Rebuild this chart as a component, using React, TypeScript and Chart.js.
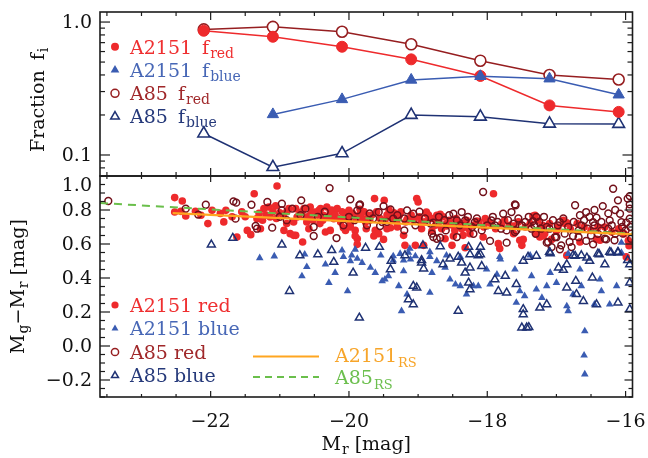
import { useEffect, useRef } from 'react';
import { Chart, registerables } from 'chart.js';

Chart.register(...registerables);

const FONT = '"DejaVu Serif", "Liberation Serif", serif';

// ---------- geometry ----------
const CW = 648, CH = 458;
const AX_L = 100, AX_R = 632.5, AX_T = 12, AX_M = 176, AX_B = 397;

const X_MIN = -23.6, X_MAX = -15.9;
const FRAC_MIN = 0.0695, FRAC_MAX = 1.19;
const COL_MIN = -0.3, COL_MAX = 1.0;

// ---------- ticks ----------
const xMajorTicks = [-22, -20, -18, -16];
const xTickLabels = ['−22', '−20', '−18', '−16'];
const fracMajorTicks = [1.0, 0.1];
const fracTickLabels = ['1.0', '0.1'];
const fracMinorTicks = [0.08, 0.09, 0.2, 0.3, 0.4, 0.5, 0.6, 0.7, 0.8, 0.9];
const colMajorTicks = [-0.2, 0.0, 0.2, 0.4, 0.6, 0.8, 1.0];
const colTickLabels = ['−0.2', '0.0', '0.2', '0.4', '0.6', '0.8', '1.0'];

// ---------- top panel: fractions ----------
const magBins = [-22.1, -21.1, -20.1, -19.1, -18.1, -17.1, -16.1];
const fRedA2151 = [0.86, 0.775, 0.652, 0.524, 0.393, 0.236, 0.211];
const fBlueA2151 = [null, 0.202, 0.262, 0.367, 0.391, 0.375, 0.284];
const fRedA85 = [0.88, 0.92, 0.846, 0.68, 0.512, 0.40, 0.37];
const fBlueA85 = [0.145, 0.081, 0.103, 0.2, 0.194, 0.172, 0.171];

// ---------- bottom panel: colour-magnitude ----------
const rsA2151Mag = [-22.55, -15.9];
const rsA2151Col = [0.782, 0.657];
const rsA85Mag = [-23.6, -15.9];
const rsA85Col = [0.841, 0.661];

const a2151Red: [number, number][] = [
  [-22.52, 0.873], [-22.41, 0.853], [-22.52, 0.788], [-22.43, 0.792], [-22.36, 0.765], [-22.22, 0.792],
  [-22.14, 0.769], [-22.04, 0.72], [-21.98, 0.798], [-21.86, 0.78], [-21.81, 0.73], [-21.78, 0.798],
  [-21.69, 0.76], [-21.62, 0.641], [-21.47, 0.68], [-21.42, 0.655], [-21.37, 0.896], [-21.33, 0.749],
  [-21.28, 0.69], [-21.23, 0.808], [-21.16, 0.818], [-21.14, 0.759], [-21.06, 0.824], [-21.04, 0.941],
  [-21.0, 0.784], [-20.94, 0.68], [-20.87, 0.808], [-20.85, 0.661], [-20.8, 0.73], [-20.77, 0.651],
  [-20.75, 0.759], [-20.77, 0.808], [-20.65, 0.808], [-20.56, 0.818], [-20.49, 0.788], [-20.41, 0.808],
  [-20.37, 0.769], [-20.32, 0.818], [-20.27, 0.788], [-20.22, 0.749], [-20.17, 0.808], [-20.12, 0.729],
  [-20.08, 0.749], [-20.05, 0.68], [-20.0, 0.798], [-19.98, 0.72], [-19.91, 0.68], [-19.88, 0.631],
  [-19.81, 0.749], [-19.76, 0.729], [-19.72, 0.769], [-19.63, 0.867], [-19.62, 0.68], [-19.57, 0.661],
  [-19.49, 0.857], [-19.48, 0.739], [-19.4, 0.759], [-19.31, 0.729], [-19.21, 0.651], [-19.19, 0.592],
  [-19.12, 0.749], [-19.04, 0.592], [-19.02, 0.867], [-19.0, 0.847], [-18.95, 0.729], [-18.92, 0.592],
  [-18.88, 0.788], [-18.83, 0.749], [-18.73, 0.769], [-18.66, 0.69], [-18.61, 0.631], [-18.59, 0.72],
  [-18.51, 0.592], [-18.47, 0.68], [-18.37, 0.69], [-20.67, 0.612], [-20.8, 0.651], [-20.34, 0.671],
  [-20.27, 0.68], [-20.61, 0.729], [-17.91, 0.896], [-18.42, 0.729], [-18.35, 0.651], [-18.27, 0.69],
  [-18.25, 0.661], [-18.06, 0.641], [-18.01, 0.729], [-17.84, 0.602], [-17.82, 0.573], [-17.79, 0.72],
  [-17.62, 0.661], [-17.53, 0.622], [-17.5, 0.592], [-17.31, 0.769], [-17.29, 0.661], [-17.24, 0.641],
  [-17.17, 0.661], [-16.88, 0.72], [-16.85, 0.533], [-16.66, 0.612], [-16.4, 0.7], [-16.37, 0.622],
  [-15.99, 0.524], [-18.03, 0.749], [-20.08, 0.696], [-19.91, 0.647], [-19.88, 0.598], [-19.64, 0.647],
  [-19.5, 0.627], [-19.4, 0.696], [-18.87, 0.775], [-18.8, 0.676], [-18.68, 0.775], [-18.49, 0.647],
  [-18.32, 0.578], [-18.15, 0.735], [-17.99, 0.735], [-17.48, 0.627], [-17.34, 0.765], [-17.19, 0.647],
  [-17.07, 0.627], [-16.85, 0.725], [-16.42, 0.627], [-19.35, 0.784], [-19.84, 0.804], [-20.03, 0.784],
  [-19.16, 0.745], [-18.59, 0.706], [-18.35, 0.716], [-17.62, 0.706], [-17.24, 0.686], [-17.0, 0.676],
  [-21.3, 0.78], [-21.2, 0.77], [-21.1, 0.79], [-21.05, 0.75], [-20.95, 0.77], [-20.9, 0.79],
  [-20.72, 0.77], [-20.68, 0.79], [-20.6, 0.76], [-20.55, 0.78], [-20.52, 0.74], [-20.45, 0.77],
  [-20.43, 0.8], [-20.38, 0.74], [-20.3, 0.76], [-20.25, 0.8], [-20.2, 0.77], [-20.15, 0.75],
  [-20.1, 0.79], [-20.02, 0.76], [-19.95, 0.78], [-19.9, 0.75], [-19.85, 0.77], [-19.78, 0.79],
  [-19.7, 0.74], [-19.67, 0.77], [-19.6, 0.79], [-19.55, 0.75], [-19.45, 0.77], [-19.42, 0.8],
  [-19.35, 0.74], [-19.27, 0.77], [-19.25, 0.79], [-19.18, 0.73], [-19.1, 0.77], [-19.06, 0.74],
  [-18.98, 0.76], [-18.9, 0.73], [-18.85, 0.77], [-18.78, 0.75], [-18.7, 0.73], [-18.64, 0.76],
  [-18.55, 0.74], [-18.5, 0.71], [-18.45, 0.75], [-18.38, 0.72], [-18.3, 0.74], [-18.2, 0.71],
  [-18.12, 0.73], [-18.05, 0.7], [-17.95, 0.72], [-17.88, 0.69], [-17.75, 0.74], [-17.68, 0.71],
  [-17.55, 0.73], [-17.45, 0.7], [-17.38, 0.72], [-17.27, 0.74], [-17.2, 0.71], [-17.1, 0.72],
  [-16.98, 0.7], [-16.9, 0.74], [-16.8, 0.69], [-16.7, 0.72], [-16.6, 0.7], [-16.5, 0.68],
  [-16.3, 0.7], [-16.2, 0.67], [-16.1, 0.69], [-16.02, 0.66], [-15.96, 0.62], [-15.95, 0.59],
  [-21.55, 0.79], [-21.5, 0.76], [-21.25, 0.74], [-20.9, 0.72], [-20.58, 0.69], [-20.42, 0.72],
  [-19.98, 0.7], [-19.75, 0.69], [-19.45, 0.69], [-19.3, 0.7], [-18.95, 0.69], [-18.75, 0.71],
];

const a2151Blue: [number, number][] = [
  [-21.29, 0.518], [-21.08, 0.528], [-20.1, 0.563], [-20.08, 0.524], [-19.96, 0.533], [-19.88, 0.514],
  [-19.54, 0.533], [-19.26, 0.543], [-19.12, 0.573], [-18.83, 0.553], [-18.83, 0.524], [-18.59, 0.533],
  [-18.39, 0.524], [-19.21, 0.504], [-19.36, 0.504], [-17.82, 0.524], [-17.38, 0.533], [-16.83, 0.543],
  [-16.06, 0.549], [-20.68, 0.411], [-20.61, 0.466], [-20.64, 0.539], [-20.34, 0.48], [-20.29, 0.372],
  [-20.2, 0.431], [-20.02, 0.323], [-19.98, 0.5], [-19.91, 0.568], [-19.81, 0.49], [-19.69, 0.461],
  [-19.62, 0.431], [-19.52, 0.382], [-19.48, 0.392], [-19.43, 0.412], [-19.36, 0.529], [-19.28, 0.353],
  [-19.24, 0.206], [-19.21, 0.441], [-19.16, 0.304], [-19.14, 0.549], [-19.11, 0.51], [-19.04, 0.529],
  [-18.8, 0.431], [-18.73, 0.5], [-18.61, 0.461], [-18.54, 0.392], [-18.46, 0.363], [-18.39, 0.353],
  [-18.3, 0.304], [-18.2, 0.353], [-18.13, 0.353], [-18.01, 0.451], [-17.96, 0.363], [-17.86, 0.421],
  [-17.81, 0.51], [-17.6, 0.451], [-17.58, 0.255], [-17.53, 0.323], [-17.46, 0.294], [-17.36, 0.412],
  [-17.29, 0.333], [-17.21, 0.284], [-17.14, 0.353], [-17.09, 0.431], [-17.0, 0.372], [-16.85, 0.235],
  [-16.83, 0.206], [-16.76, 0.304], [-16.66, 0.451], [-16.64, 0.353], [-16.59, 0.088], [-16.6, -0.055],
  [-16.59, -0.166], [-16.45, 0.245], [-16.37, 0.392], [-16.35, 0.323], [-16.23, 0.245], [-16.13, 0.353],
  [-16.06, 0.608], [-18.83, 0.314],
];

const a85Red: [number, number][] = [
  [-23.48, 0.853], [-22.36, 0.808], [-22.18, 0.773], [-22.07, 0.831], [-21.67, 0.851], [-21.63, 0.843],
  [-21.64, 0.749], [-21.41, 0.831], [-21.35, 0.706], [-21.33, 0.69], [-21.11, 0.696], [-21.18, 0.847],
  [-20.97, 0.837], [-20.97, 0.798], [-20.82, 0.808], [-20.28, 0.929], [-20.69, 0.857], [-20.63, 0.808],
  [-20.51, 0.7], [-20.51, 0.647], [-20.18, 0.635], [-19.98, 0.863], [-19.85, 0.828], [-19.88, 0.798],
  [-19.57, 0.788], [-19.52, 0.729], [-19.36, 0.749], [-19.16, 0.798], [-19.07, 0.778], [-19.04, 0.71],
  [-18.8, 0.661], [-18.78, 0.641], [-18.73, 0.631], [-18.49, 0.778], [-18.44, 0.739], [-18.44, 0.641],
  [-20.7, 0.769], [-19.74, 0.71], [-20.08, 0.71], [-18.06, 0.906], [-18.37, 0.788], [-18.32, 0.739],
  [-18.18, 0.729], [-18.08, 0.68], [-17.94, 0.739], [-17.89, 0.71], [-17.77, 0.778], [-17.65, 0.788],
  [-17.59, 0.828], [-17.58, 0.68], [-17.5, 0.71], [-17.36, 0.69], [-17.29, 0.759], [-17.22, 0.69],
  [-17.12, 0.612], [-17.07, 0.582], [-17.02, 0.641], [-16.95, 0.729], [-16.93, 0.592], [-16.81, 0.612],
  [-16.78, 0.582], [-16.73, 0.828], [-16.66, 0.769], [-16.64, 0.71], [-16.57, 0.788], [-16.52, 0.759],
  [-16.47, 0.729], [-16.35, 0.68], [-16.3, 0.631], [-16.23, 0.739], [-16.18, 0.925], [-16.16, 0.622],
  [-16.11, 0.857], [-16.08, 0.778], [-16.06, 0.729], [-16.04, 0.661], [-15.97, 0.867], [-15.94, 0.808],
  [-15.94, 0.749], [-15.92, 0.631], [-17.72, 0.68], [-16.88, 0.661], [-17.14, 0.7], [-19.84, 0.833],
  [-19.5, 0.823], [-19.4, 0.804], [-17.6, 0.833], [-17.34, 0.735], [-17.14, 0.608], [-16.42, 0.755],
  [-16.33, 0.823], [-15.99, 0.725], [-15.94, 0.882], [-15.94, 0.833], [-16.76, 0.647], [-16.57, 0.618],
  [-16.47, 0.598], [-16.28, 0.627], [-16.95, 0.569], [-17.72, 0.608], [-17.96, 0.618], [-18.78, 0.725],
  [-19.55, 0.706], [-18.68, 0.637],
  [-21.0, 0.76], [-20.9, 0.74], [-20.45, 0.76], [-20.35, 0.79], [-20.0, 0.76], [-19.92, 0.74],
  [-19.7, 0.78], [-19.65, 0.75], [-19.45, 0.73], [-19.3, 0.77], [-19.2, 0.75], [-18.98, 0.79],
  [-18.9, 0.75], [-18.82, 0.72], [-18.7, 0.76], [-18.62, 0.74], [-18.55, 0.77], [-18.4, 0.71],
  [-18.28, 0.76], [-18.22, 0.7], [-18.15, 0.75], [-18.0, 0.71], [-17.92, 0.76], [-17.85, 0.73],
  [-17.8, 0.69], [-17.7, 0.74], [-17.62, 0.72], [-17.55, 0.75], [-17.45, 0.73], [-17.4, 0.76],
  [-17.32, 0.71], [-17.25, 0.73], [-17.18, 0.76], [-17.1, 0.69], [-17.05, 0.74], [-16.98, 0.71],
  [-16.9, 0.75], [-16.83, 0.7], [-16.75, 0.73], [-16.68, 0.68], [-16.6, 0.74], [-16.55, 0.69],
  [-16.45, 0.71], [-16.4, 0.66], [-16.35, 0.73], [-16.25, 0.69], [-16.2, 0.71], [-16.15, 0.66],
  [-16.05, 0.7], [-16.0, 0.68], [-15.93, 0.7], [-16.68, 0.64], [-16.5, 0.65], [-17.0, 0.64],
  [-17.3, 0.66], [-17.6, 0.67], [-18.2, 0.66], [-18.6, 0.68], [-19.2, 0.68], [-16.15, 0.8],
  [-16.25, 0.78], [-16.45, 0.8],
];

const a85Blue: [number, number][] = [
  [-21.99, 0.596], [-21.68, 0.635], [-20.97, 0.596], [-20.71, 0.533], [-20.45, 0.539], [-20.25, 0.563],
  [-19.76, 0.577], [-19.56, 0.582], [-19.19, 0.533], [-18.95, 0.504], [-18.68, 0.586], [-18.54, 0.514],
  [-20.22, 0.494], [-18.27, 0.582], [-18.1, 0.582], [-18.13, 0.533], [-17.41, 0.524], [-17.1, 0.553],
  [-16.76, 0.533], [-16.64, 0.533], [-16.4, 0.543], [-16.23, 0.553], [-16.11, 0.553], [-18.42, 0.524],
  [-15.97, 0.504], [-20.86, 0.323], [-19.94, 0.431], [-19.85, 0.166], [-19.39, 0.5], [-19.4, 0.451],
  [-19.14, 0.274], [-18.93, 0.592], [-18.95, 0.49], [-18.64, 0.48], [-18.92, 0.455], [-19.07, 0.353],
  [-19.02, 0.343], [-19.07, 0.245], [-18.42, 0.206], [-18.37, 0.49], [-18.25, 0.539], [-18.1, 0.539],
  [-18.25, 0.461], [-18.32, 0.431], [-18.27, 0.372], [-18.25, 0.333], [-18.08, 0.47], [-17.89, 0.392],
  [-17.84, 0.323], [-17.72, 0.313], [-17.74, 0.412], [-17.58, 0.363], [-17.48, 0.5], [-17.29, 0.529],
  [-17.09, 0.545], [-16.85, 0.48], [-16.73, 0.529], [-16.72, 0.382], [-16.85, 0.343], [-16.71, 0.304],
  [-16.61, 0.264], [-16.52, 0.5], [-16.48, 0.402], [-16.38, 0.539], [-16.3, 0.48], [-16.42, 0.245],
  [-16.11, 0.255], [-16.11, 0.549], [-15.94, 0.48], [-15.94, 0.372], [-15.94, 0.216], [-17.24, 0.225],
  [-17.14, 0.245], [-17.48, 0.216], [-17.48, 0.186], [-17.5, 0.108], [-17.43, 0.108], [-17.4, 0.11],
  [-16.97, 0.461], [-16.9, 0.447], [-16.21, 0.549], [-16.56, 0.519],
];

// ---------- colours ----------
const AXIS = '#1c1c1c';
const C_RED = '#ee2a2c';
const C_BLUE = '#3a5cb2';
const C_DRED = '#961e20';
const C_DRED_PT = '#72101a';
const C_NAVY = '#1f3274';
const C_ORANGE = '#ffa620';
const C_GREEN = '#6abf4b';
const T_RED = '#ef2f30';
const T_BLUE = '#4767b6';
const T_DRED = '#a0282a';
const T_NAVY = '#25397a';
const T_ORANGE = '#f7a52a';
const T_GREEN = '#6cbf4e';

type Seg = { t: string; sub?: boolean };

function drawRich(ctx: CanvasRenderingContext2D, segs: Seg[], x: number, y: number, color: string,
  align: 'left' | 'center' = 'left', size = 19, subSize = 14, subDy = 4) {
  ctx.save();
  (ctx as any).wordSpacing = '4px';
  ctx.fillStyle = color;
  ctx.textBaseline = 'alphabetic';
  ctx.textAlign = 'left';
  let total = 0;
  for (const s of segs) {
    ctx.font = `${s.sub ? subSize : size}px ${FONT}`;
    total += ctx.measureText(s.t).width + (s.sub ? 1 : 0);
  }
  let cx = align === 'center' ? x - total / 2 : x;
  for (const s of segs) {
    ctx.font = `${s.sub ? subSize : size}px ${FONT}`;
    if (s.sub) cx += 1;
    ctx.fillText(s.t, cx, y + (s.sub ? subDy : 0));
    cx += ctx.measureText(s.t).width;
  }
  ctx.restore();
}

function marker(ctx: CanvasRenderingContext2D, kind: 'circle' | 'ocircle' | 'tri' | 'otri', x: number, y: number, r: number, color: string) {
  ctx.save();
  ctx.beginPath();
  if (kind === 'circle' || kind === 'ocircle') {
    ctx.arc(x, y, r, 0, Math.PI * 2);
  } else {
    const h = r * 1.5, w = r * Math.sqrt(3);
    ctx.moveTo(x, y - r);
    ctx.lineTo(x + w / 2, y - r + h);
    ctx.lineTo(x - w / 2, y - r + h);
    ctx.closePath();
  }
  if (kind === 'circle' || kind === 'tri') {
    ctx.fillStyle = color; ctx.fill();
  } else {
    ctx.strokeStyle = color; ctx.lineWidth = 1.5; ctx.stroke();
  }
  ctx.restore();
}

function seg(ctx: CanvasRenderingContext2D, x1: number, y1: number, x2: number, y2: number) {
  ctx.beginPath(); ctx.moveTo(x1, y1); ctx.lineTo(x2, y2); ctx.stroke();
}

function drawXTicks(ctx: CanvasRenderingContext2D, chart: any, majLen: number, minLen: number) {
  const xs = chart.scales.x;
  const { top, bottom } = chart.chartArea;
  for (let k = 0; k <= 15; k++) {
    const v = -23.5 + k * 0.5;
    const px = xs.getPixelForValue(v);
    const major = xMajorTicks.some(t => Math.abs(t - v) < 1e-6);
    const len = major ? majLen : minLen;
    seg(ctx, px, top, px, top + len);
    seg(ctx, px, bottom, px, bottom - len);
  }
}

const topAxesPlugin = {
  id: 'topAxes',
  afterDraw(chart: any) {
    const ctx: CanvasRenderingContext2D = chart.ctx;
    const ys = chart.scales.y;
    const { left, right, top, bottom } = chart.chartArea;
    ctx.save();
    ctx.strokeStyle = AXIS;
    ctx.lineWidth = 1.6;
    ctx.strokeRect(left, top, right - left, bottom - top);
    ctx.lineWidth = 1.2;
    drawXTicks(ctx, chart, 8, 4);
    for (const v of fracMajorTicks) {
      const py = ys.getPixelForValue(v);
      seg(ctx, left, py, left + 10, py);
      seg(ctx, right, py, right - 10, py);
    }
    for (const v of fracMinorTicks) {
      const py = ys.getPixelForValue(v);
      seg(ctx, left, py, left + 5, py);
      seg(ctx, right, py, right - 5, py);
    }
    ctx.fillStyle = '#111';
    ctx.font = `19px ${FONT}`;
    ctx.textAlign = 'right';
    ctx.textBaseline = 'middle';
    fracMajorTicks.forEach((v, i) => {
      ctx.fillText(fracTickLabels[i], 92, ys.getPixelForValue(v) + 1);
    });
    ctx.save();
    ctx.translate(37, 152);
    ctx.rotate(-Math.PI / 2);
    drawRich(ctx, [{ t: 'Fraction f' }, { t: 'i', sub: true }], 0, 7, '#111');
    ctx.restore();
    const rows: { k: any; c: string; tc: string; a: string; s: string }[] = [
      { k: 'circle', c: C_RED, tc: T_RED, a: 'A2151 f', s: 'red' },
      { k: 'tri', c: C_BLUE, tc: T_BLUE, a: 'A2151 f', s: 'blue' },
      { k: 'ocircle', c: C_DRED, tc: T_DRED, a: 'A85 f', s: 'red' },
      { k: 'otri', c: C_NAVY, tc: T_NAVY, a: 'A85 f', s: 'blue' },
    ];
    rows.forEach((r, i) => {
      const cy = 46.7 + i * 23.3;
      marker(ctx, r.k, 115, cy, r.k.includes('tri') ? 5 : 4, r.c);
      drawRich(ctx, [{ t: r.a }, { t: r.s, sub: true }], 130, cy + 6.8, r.tc);
    });
    ctx.restore();
  },
};

const bottomAxesPlugin = {
  id: 'bottomAxes',
  afterDraw(chart: any) {
    const ctx: CanvasRenderingContext2D = chart.ctx;
    const xs = chart.scales.x, ys = chart.scales.y;
    const { left, right, top, bottom } = chart.chartArea;
    ctx.save();
    ctx.strokeStyle = AXIS;
    ctx.lineWidth = 1.6;
    ctx.strokeRect(left, top, right - left, bottom - top);
    ctx.lineWidth = 1.2;
    drawXTicks(ctx, chart, 6, 3);
    for (let k = 0; k <= 26; k++) {
      const v = -0.3 + k * 0.05;
      if (v > 1.001) break;
      const py = ys.getPixelForValue(v);
      const major = colMajorTicks.some(t => Math.abs(t - v) < 1e-6);
      const len = major ? 10 : 5;
      seg(ctx, left, py, left + len, py);
      seg(ctx, right, py, right - (major ? 8 : 4), py);
    }
    ctx.fillStyle = '#111';
    ctx.font = `19px ${FONT}`;
    ctx.textAlign = 'right';
    ctx.textBaseline = 'middle';
    colMajorTicks.forEach((v, i) => {
      const py = Math.max(ys.getPixelForValue(v), top + 9);
      ctx.fillText(colTickLabels[i], 92, py + 1);
    });
    ctx.textAlign = 'center';
    ctx.textBaseline = 'alphabetic';
    xMajorTicks.forEach((v, i) => {
      ctx.fillText(xTickLabels[i], xs.getPixelForValue(v), 427);
    });
    drawRich(ctx, [{ t: 'M' }, { t: 'r', sub: true }, { t: ' [mag]' }], (left + right) / 2, 450, '#111', 'center');
    ctx.save();
    ctx.translate(25, (top + bottom) / 2);
    ctx.rotate(-Math.PI / 2);
    drawRich(ctx, [{ t: 'M' }, { t: 'g', sub: true }, { t: '−M' }, { t: 'r', sub: true }, { t: ' [mag]' }], 0, -1, '#111', 'center');
    ctx.restore();
    const rows: { k: any; c: string; tc: string; t: string }[] = [
      { k: 'circle', c: C_RED, tc: T_RED, t: 'A2151 red' },
      { k: 'tri', c: C_BLUE, tc: T_BLUE, t: 'A2151 blue' },
      { k: 'ocircle', c: C_DRED, tc: T_DRED, t: 'A85 red' },
      { k: 'otri', c: C_NAVY, tc: T_NAVY, t: 'A85 blue' },
    ];
    rows.forEach((r, i) => {
      const cy = 305 + i * 23.5;
      marker(ctx, r.k, 115, cy, r.k.includes('tri') ? 4 : 3.6, r.c);
      drawRich(ctx, [{ t: r.t }], 130, cy + 6.8, r.tc);
    });
    ctx.lineWidth = 2;
    ctx.strokeStyle = C_ORANGE;
    seg(ctx, 253, 356.5, 319, 356.5);
    ctx.strokeStyle = C_GREEN;
    ctx.setLineDash([7, 5]);
    seg(ctx, 253, 377, 319, 377);
    ctx.setLineDash([]);
    drawRich(ctx, [{ t: 'A2151' }, { t: 'RS', sub: true }], 335, 362, T_ORANGE, 'left', 19, 13, 5);
    drawRich(ctx, [{ t: 'A85' }, { t: 'RS', sub: true }], 335, 384, T_GREEN, 'left', 19, 13, 5);
    ctx.restore();
  },
};

function toPts(a: [number, number][]) {
  return a.map(([x, y]) => ({ x, y }));
}

function lineData(xs: number[], ys: (number | null)[]) {
  return xs.map((x, i) => ({ x, y: ys[i] })).filter(p => p.y !== null) as { x: number; y: number }[];
}

export default function App() {
  const topRef = useRef<HTMLCanvasElement>(null);
  const botRef = useRef<HTMLCanvasElement>(null);

  useEffect(() => {
    const common = {
      responsive: false,
      animation: false as const,
      events: [] as any[],
      plugins: { legend: { display: false }, tooltip: { enabled: false } },
    };
    const bottom = new Chart(botRef.current!, {
      type: 'scatter',
      data: {
        datasets: [
          {
            type: 'line', data: lineData(rsA2151Mag, rsA2151Col), borderColor: C_ORANGE, borderWidth: 2.2,
            pointRadius: 0, fill: false, order: 0,
          } as any,
          {
            type: 'line', data: lineData(rsA85Mag, rsA85Col), borderColor: C_GREEN, borderWidth: 2,
            borderDash: [8, 6], pointRadius: 0, fill: false, order: 1,
          } as any,
          {
            data: toPts(a85Blue), pointStyle: 'triangle', pointRadius: 4.6, pointBorderWidth: 1.5,
            pointBackgroundColor: 'rgba(255,255,255,0)', pointBorderColor: C_NAVY, order: 2,
          } as any,
          {
            data: toPts(a2151Blue), pointStyle: 'triangle', pointRadius: 4.4, pointBorderWidth: 0,
            pointBackgroundColor: C_BLUE, pointBorderColor: C_BLUE, order: 3,
          } as any,
          {
            data: toPts(a85Red), pointStyle: 'circle', pointRadius: 3.4, pointBorderWidth: 1.5,
            pointBackgroundColor: 'rgba(255,255,255,0)', pointBorderColor: C_DRED_PT, order: 4,
          } as any,
          {
            data: toPts(a2151Red), pointStyle: 'circle', pointRadius: 3.8, pointBorderWidth: 0,
            pointBackgroundColor: C_RED, pointBorderColor: C_RED, order: 5,
          } as any,
        ],
      },
      options: {
        ...common,
        layout: { padding: { left: AX_L, right: CW - AX_R, top: AX_M, bottom: CH - AX_B } },
        scales: {
          x: { type: 'linear', min: X_MIN, max: X_MAX, display: false },
          y: { type: 'linear', min: COL_MIN, max: COL_MAX, display: false },
        },
      } as any,
      plugins: [bottomAxesPlugin],
    });

    const top = new Chart(topRef.current!, {
      type: 'line',
      data: {
        datasets: [
          {
            data: lineData(magBins, fBlueA2151), borderColor: C_BLUE, borderWidth: 1.5,
            pointStyle: 'triangle', pointRadius: 6.5, pointBorderWidth: 1, pointBackgroundColor: C_BLUE,
            pointBorderColor: C_BLUE, fill: false, tension: 0, order: 0,
          },
          {
            data: lineData(magBins, fRedA2151), borderColor: C_RED, borderWidth: 1.5,
            pointStyle: 'circle', pointRadius: 5.5, pointBorderWidth: 1, pointBackgroundColor: C_RED,
            pointBorderColor: C_RED, fill: false, tension: 0, order: 1,
          },
          {
            data: lineData(magBins, fRedA85), borderColor: C_DRED, borderWidth: 1.5,
            pointStyle: 'circle', pointRadius: 5.5, pointBorderWidth: 1.6, pointBackgroundColor: '#ffffff',
            pointBorderColor: C_DRED, fill: false, tension: 0, order: 2,
          },
          {
            data: lineData(magBins, fBlueA85), borderColor: C_NAVY, borderWidth: 1.5,
            pointStyle: 'triangle', pointRadius: 6.8, pointBorderWidth: 1.6, pointBackgroundColor: '#ffffff',
            pointBorderColor: C_NAVY, fill: false, tension: 0, order: 3,
          },
        ] as any,
      },
      options: {
        ...common,
        layout: { padding: { left: AX_L, right: CW - AX_R, top: AX_T, bottom: CH - AX_M } },
        scales: {
          x: { type: 'linear', min: X_MIN, max: X_MAX, display: false },
          y: { type: 'logarithmic', min: FRAC_MIN, max: FRAC_MAX, display: false },
        },
      } as any,
      plugins: [topAxesPlugin],
    });

    return () => {
      bottom.destroy();
      top.destroy();
    };
  }, []);

  const cs: any = { position: 'absolute', left: 0, top: 0, width: CW, height: CH };
  return (
    <div style={{ position: 'fixed', left: 0, top: 0, width: CW, height: CH, background: '#ffffff' }}>
      <canvas ref={botRef} width={CW} height={CH} style={cs} />
      <canvas ref={topRef} width={CW} height={CH} style={cs} />
    </div>
  );
}
